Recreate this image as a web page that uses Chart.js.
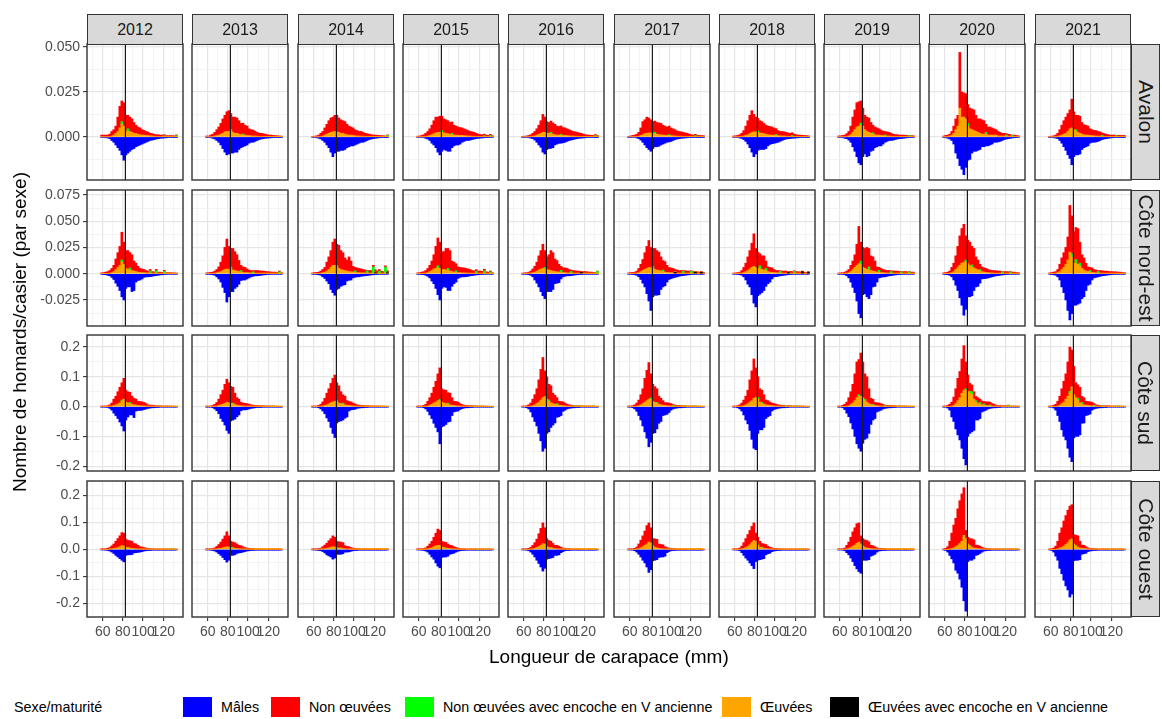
<!DOCTYPE html>
<html lang="fr">
<head>
<meta charset="utf-8">
<title>Homards par casier selon la longueur de carapace</title>
<script src="https://cdn.jsdelivr.net/npm/chart.js@4.4.1/dist/chart.umd.min.js"></script>
<style>
  body { margin: 0; background: #fff; }
  #figure { position: relative; width: 1162px; height: 719px; overflow: hidden;
            font-family: "Liberation Sans", Arial, sans-serif; color: #1a1a1a; }
  #figure canvas { position: absolute; }
  .strip { position: absolute; box-sizing: border-box; background: #d9d9d9; border: 1px solid #333;
           display: flex; align-items: center; justify-content: center; white-space: nowrap; }
  .strip.top { font-size: 16px; }
  .strip.side span { display: inline-block; transform: rotate(90deg); font-size: 21px; }
  .axis-title { position: absolute; font-size: 19px; white-space: nowrap; color: #000; }
  .legend-text { position: absolute; top: 698px; font-size: 14.3px; line-height: 18px; white-space: nowrap; color: #000; }
  .legend-key { position: absolute; top: 697px; width: 29px; height: 20px; }
</style>
</head>
<body>
<div id="figure"></div>
<script>
// ------------ Données ------------

const years = ["2012", "2013", "2014", "2015", "2016", "2017", "2018", "2019", "2020", "2021"];
const regions = ["Avalon", "Côte nord-est", "Côte sud", "Côte ouest"];

// centres des classes de longueur de carapace (mm), classes de 2 mm
const lengthBins = [59, 61, 63, 65, 67, 69, 71, 73, 75, 77, 79, 81, 83, 85, 87, 89, 91, 93, 95, 97,
  99, 101, 103, 105, 107, 109, 111, 113, 115, 117, 119, 121, 123, 125, 127, 129, 131, 133];

// taille minimale légale (mm)
const legalSize = 82.5;

// --- Avalon ---
const malesAvalon = [
  [-.0004,-.0004,-.0005,-.0006,-.001,-.002,-.003,-.0045,-.006,-.0075,-.010,-.013,-.010,-.009,-.008,-.007,-.0065,-.0055,-.005,-.0045,-.004,-.0035,-.003,-.0025,-.002,-.0018,-.0015,-.0012,-.001,-.0008,-.0007,-.0006,-.0005,-.0004,-.0003,-.0003,-.0002,-.0002],
  [-.0002,-.0003,-.0005,-.0008,-.0012,-.002,-.003,-.0045,-.0065,-.0085,-.010,-.0095,-.009,-.009,-.0085,-.0085,-.007,-.006,-.0055,-.005,-.0045,-.0035,-.003,-.003,-.0025,-.002,-.0015,-.0012,-.001,-.0008,-.0007,-.0006,-.0005,-.0004,-.0003,-.0003,-.0002,-.0002],
  [-.0003,-.0004,-.0005,-.0008,-.0012,-.002,-.003,-.0045,-.006,-.0085,-.011,-.009,-.008,-.008,-.0075,-.0075,-.007,-.006,-.0055,-.005,-.005,-.0045,-.004,-.0035,-.003,-.003,-.0025,-.002,-.0015,-.0012,-.001,-.0008,-.0006,-.0005,-.0004,-.0003,-.0002,-.0002],
  [-.0003,-.0003,-.0004,-.0005,-.0008,-.0012,-.002,-.0035,-.0045,-.006,-.0085,-.010,-.008,-.007,-.0075,-.008,-.008,-.006,-.005,-.0045,-.0045,-.004,-.003,-.0025,-.002,-.002,-.0018,-.0015,-.0012,-.001,-.0008,-.0007,-.0006,-.0005,-.0004,-.0004,-.0003,-.0003],
  [-.0002,-.0003,-.0004,-.0005,-.0007,-.001,-.0018,-.003,-.0045,-.0058,-.0085,-.0095,-.007,-.0065,-.0064,-.006,-.0045,-.004,-.0036,-.0035,-.0033,-.003,-.0025,-.002,-.0018,-.0015,-.0012,-.001,-.0008,-.0007,-.0006,-.0005,-.0004,-.0004,-.0003,-.0003,-.0002,-.0002],
  [-.0002,-.0002,-.0003,-.0004,-.0006,-.001,-.0018,-.003,-.0045,-.006,-.007,-.008,-.0065,-.0055,-.0055,-.0052,-.0045,-.004,-.0035,-.003,-.0028,-.0025,-.002,-.0015,-.0012,-.001,-.0008,-.0007,-.0006,-.0005,-.0004,-.0004,-.0003,-.0003,-.0002,-.0002,-.0002,-.0002],
  [-.0003,-.0003,-.0004,-.0006,-.0009,-.0015,-.0025,-.004,-.006,-.0085,-.011,-.0095,-.0075,-.007,-.007,-.007,-.0065,-.005,-.0042,-.0038,-.0036,-.0033,-.003,-.0025,-.002,-.0015,-.0012,-.001,-.0009,-.0008,-.0007,-.0006,-.0005,-.0004,-.0003,-.0003,-.0002,-.0002],
  [-.0003,-.0004,-.0005,-.0008,-.001,-.0018,-.003,-.0055,-.008,-.011,-.0145,-.0155,-.011,-.0095,-.011,-.0105,-.008,-.0075,-.006,-.0055,-.005,-.005,-.004,-.003,-.0025,-.002,-.002,-.0018,-.0015,-.0012,-.001,-.0009,-.0008,-.0006,-.0005,-.0004,-.0004,-.0003],
  [-.0004,-.0005,-.0008,-.0012,-.002,-.004,-.009,-.012,-.016,-.018,-.021,-.017,-.013,-.0125,-.009,-.008,-.008,-.0075,-.007,-.0055,-.0055,-.005,-.005,-.0045,-.004,-.003,-.003,-.0028,-.0025,-.002,-.0015,-.0012,-.001,-.0008,-.0006,-.0005,-.0004,-.0003],
  [-.0002,-.0003,-.0005,-.0007,-.001,-.002,-.0035,-.0055,-.0075,-.010,-.012,-.0155,-.011,-.010,-.010,-.0095,-.007,-.006,-.0055,-.005,-.0035,-.003,-.003,-.0028,-.0025,-.002,-.0015,-.0012,-.001,-.0008,-.0006,-.0005,-.0004,-.0003,-.0003,-.0002,-.0002,-.0002]
];
const nonOeuveesAvalon = [
  [.001,.001,.001,.001,.0015,.0025,.003,.004,.008,.012,.0115,.013,.009,.0075,.008,.0075,.006,.0047,.004,.0038,.003,.0026,.0022,.002,.0014,.0013,.0011,.0009,.0009,.0007,.0007,.0006,.0005,.0005,.0005,.0005,.0004,.0004],
  [.0005,.0005,.001,.0015,.002,.0032,.0045,.006,.008,.0092,.011,.0116,.009,.0085,.009,.0085,.0075,.0063,.006,.0055,.0052,.0038,.0034,.0033,.0027,.0021,.0017,.0017,.0015,.0013,.001,.0008,.0008,.0006,.0005,.0005,.0004,.0003],
  [.0003,.0004,.0006,.001,.0017,.0025,.004,.0055,.007,.008,.0082,.009,.0092,.008,.0075,.007,.007,.0058,.005,.0045,.0042,.0034,.003,.0025,.0026,.0021,.0017,.0015,.0012,.001,.0008,.0008,.0007,.0006,.0005,.0004,.0003,.0003],
  [.0004,.0005,.0008,.0012,.0017,.0025,.0037,.0053,.0072,.0088,.0085,.009,.008,.0078,.0075,.0072,.0065,.0063,.0055,.005,.0046,.0044,.0042,.0038,.0034,.003,.0025,.0024,.0021,.0017,.0012,.001,.001,.0008,.0008,.0007,.0006,.0005],
  [.0003,.0004,.0005,.0008,.001,.0016,.0024,.0035,.005,.007,.010,.0085,.0063,.006,.0062,.0063,.0058,.005,.0048,.0046,.0044,.0042,.0038,.0034,.003,.0025,.0024,.0021,.0019,.0017,.0012,.001,.0008,.0008,.0007,.0006,.0006,.0005],
  [.0003,.0005,.0008,.001,.0013,.0021,.0042,.0073,.0077,.009,.0083,.0073,.0065,.0062,.0065,.0065,.0063,.0055,.0051,.0047,.0047,.0043,.0039,.0035,.0028,.0026,.0024,.0022,.0019,.0017,.0013,.001,.0008,.0007,.0006,.0006,.0005,.0005],
  [.0005,.0006,.0008,.0012,.0017,.003,.0052,.0078,.0102,.0121,.0097,.0082,.007,.0068,.0065,.0057,.005,.0048,.0048,.0045,.0041,.0032,.0028,.0024,.0025,.0023,.0021,.0018,.0017,.0015,.0012,.001,.0008,.0008,.0007,.0006,.0005,.0004],
  [.0005,.0006,.0008,.001,.0015,.0024,.0048,.0085,.011,.0135,.0135,.0123,.010,.008,.008,.008,.006,.0042,.0043,.004,.0035,.003,.0025,.0019,.0023,.002,.0016,.0011,.001,.0009,.0007,.0008,.0008,.0007,.0006,.0001,.0005,.0004],
  [.0005,.0008,.001,.001,.002,.004,.006,.006,.031,.014,.0135,.014,.0105,.0115,.0115,.0115,.009,.0075,.008,.008,.0075,.0045,.0045,.0045,.004,.0035,.003,.0025,.002,.0015,.0015,.0007,.0011,.0008,.0002,.0007,.0006,.0004],
  [.0003,.0004,.0006,.001,.0017,.0034,.0055,.0075,.009,.010,.0105,.016,.010,.008,.0095,.0095,.0065,.0056,.0054,.005,.0037,.0033,.003,.003,.0025,.0024,.0013,.0015,.0012,.0009,.0008,.0008,.0008,.0002,.0007,.0006,.0006,.0006]
];
const oeuveesAvalon = [
  [0,0,0,0,0,.0005,.001,.002,.003,.005,.007,.006,.003,.003,.003,.0025,.002,.0018,.0015,.0012,.001,.001,.0008,.0007,.0006,.0005,.0004,.0003,.0003,.0003,.0003,.0002,.0002,.0002,.0002,.0002,.0002,.0002],
  [0,0,0,0,.0005,.0008,.001,.0015,.002,.0028,.003,.003,.003,.0025,.002,.002,.0015,.0012,.001,.001,.0008,.0007,.0006,.0005,.0005,.0004,.0003,.0003,.0003,.0002,.0002,.0002,.0002,.0002,.0002,.0001,.0001,.0001],
  [0,0,0,0,.0003,.0005,.001,.0015,.002,.0025,.0028,.003,.0028,.0025,.002,.002,.0015,.0012,.001,.001,.0008,.0006,.0005,.0005,.0004,.0004,.0003,.0003,.0003,.0002,.0002,.0002,.0002,.0002,.0002,.0002,.0002,.0002],
  [0,0,0,0,.0003,.0005,.0008,.0012,.0018,.0022,.0025,.0025,.0025,.0022,.002,.0018,.0015,.0012,.001,.001,.0009,.0008,.0008,.0007,.0006,.0005,.0005,.0004,.0004,.0003,.0003,.0003,.0002,.0002,.0002,.0002,.0002,.0002],
  [0,0,0,0,.0002,.0004,.0006,.001,.0015,.002,.0025,.0025,.0022,.002,.0018,.0015,.0012,.001,.001,.0009,.0008,.0008,.0007,.0006,.0005,.0005,.0004,.0004,.0003,.0003,.0003,.0002,.0002,.0002,.0002,.0002,.0002,.0002],
  [0,0,0,0,.0002,.0004,.0008,.0012,.0018,.002,.0022,.0022,.002,.0018,.0015,.0013,.0012,.001,.0009,.0008,.0008,.0007,.0006,.0005,.0005,.0004,.0004,.0003,.0003,.0003,.0002,.0002,.0002,.0002,.0002,.0002,.0002,.0002],
  [0,0,0,0,.0003,.0005,.0008,.0012,.0018,.0025,.0028,.0028,.0025,.0022,.002,.0018,.0015,.0012,.001,.001,.0009,.0008,.0007,.0006,.0005,.0005,.0004,.0004,.0003,.0003,.0003,.0002,.0002,.0002,.0002,.0002,.0002,.0002],
  [0,0,0,0,.0003,.0006,.0012,.0025,.004,.0055,.006,.0065,.006,.004,.003,.0025,.002,.0015,.0012,.001,.001,.0008,.0007,.0006,.0005,.0005,.0004,.0004,.0003,.0003,.0003,.0002,.0002,.0002,.0002,.0002,.0002,.0002],
  [0,0,0,.0005,.001,.002,.004,.006,.016,.011,.011,.010,.006,.0045,.004,.0035,.003,.0025,.002,.0015,.0015,.0015,.001,.001,.001,.001,.001,.0005,.0005,.0005,.0005,.0005,.0004,.0004,.0003,.0003,.0002,.0002],
  [0,0,0,0,.0003,.0006,.001,.0015,.002,.003,.0045,.005,.004,.003,.0025,.002,.0015,.0012,.001,.001,.0008,.0007,.0006,.0005,.0005,.0004,.0004,.0003,.0003,.0003,.0002,.0002,.0002,.0002,.0002,.0002,.0002,.0002]
];
// [longueur, homards/casier]
const nonOeuveesVAvalon = [
  [[79,.0015],[85,.0015],[121,.0004],[133,.0005]],
  [[83,.001],[95,.0006]],
  [[133,.0006]],
  [[83,.001],[93,.0008],[125,.0005],[131,.0006]],
  [[87,.0008],[97,.0006],[131,.0005]],
  [[85,.0008],[99,.0005],[125,.0005]],
  [[83,.0008],[101,.0006],[117,.0005]],
  [[81,.0012],[93,.0008],[105,.0005],[129,.0005]],
  [[83,.0015],[101,.001],[121,.0006],[127,.0005]],
  [[85,.001],[111,.0005],[125,.0005]]
];
const oeuveesVAvalon = [[], [], [], [], [], [], [], [], [], []];

// --- Côte nord-est ---
const malesNordEst = [
  [-.0005,-.0008,-.001,-.0015,-.002,-.0035,-.0055,-.009,-.012,-.016,-.022,-.025,-.014,-.0125,-.0125,-.017,-.016,-.008,-.0065,-.006,-.005,-.0035,-.003,-.003,-.0028,-.0025,-.002,-.0018,-.0015,-.0012,-.001,-.0008,-.0006,-.0005,-.0004,-.0003,-.0003,-.0002],
  [-.0005,-.0006,-.0008,-.001,-.0015,-.003,-.005,-.008,-.013,-.018,-.027,-.022,-.017,-.017,-.014,-.0125,-.010,-.0065,-.006,-.006,-.005,-.004,-.003,-.0025,-.002,-.002,-.0018,-.0015,-.0012,-.001,-.0008,-.0007,-.0006,-.0005,-.0004,-.0003,-.0003,-.0002],
  [-.0005,-.0006,-.0008,-.001,-.0015,-.003,-.0045,-.007,-.0095,-.015,-.018,-.0205,-.015,-.014,-.012,-.011,-.0105,-.007,-.0063,-.006,-.004,-.0035,-.003,-.003,-.0025,-.0022,-.002,-.0018,-.0015,-.0012,-.001,-.0008,-.0007,-.0006,-.0005,-.0004,-.0003,-.0003],
  [-.0005,-.0006,-.0008,-.001,-.0015,-.0025,-.004,-.007,-.0095,-.014,-.020,-.025,-.014,-.0125,-.013,-.016,-.016,-.012,-.0095,-.008,-.0045,-.0035,-.003,-.003,-.0028,-.0025,-.002,-.0018,-.0015,-.0012,-.001,-.0008,-.0007,-.0006,-.0005,-.0004,-.0003,-.0003],
  [-.0004,-.0005,-.0007,-.001,-.0015,-.003,-.006,-.009,-.0126,-.017,-.021,-.0237,-.017,-.017,-.017,-.015,-.0095,-.009,-.0085,-.005,-.003,-.0025,-.002,-.002,-.0018,-.0015,-.0012,-.001,-.0008,-.0007,-.0006,-.0005,-.0004,-.0003,-.0003,-.0002,-.0002,-.0002],
  [-.0005,-.0006,-.0008,-.001,-.0015,-.003,-.0055,-.009,-.0126,-.019,-.026,-.035,-.022,-.0205,-.0205,-.020,-.015,-.0126,-.0115,-.008,-.0055,-.0047,-.004,-.0035,-.003,-.0025,-.002,-.0018,-.0015,-.0012,-.001,-.0008,-.0007,-.0006,-.0005,-.0004,-.0003,-.0003],
  [-.0004,-.0005,-.0007,-.001,-.0015,-.003,-.006,-.010,-.0126,-.020,-.028,-.0316,-.021,-.0195,-.018,-.016,-.012,-.0095,-.008,-.005,-.003,-.0028,-.0025,-.002,-.0018,-.0015,-.0012,-.001,-.0008,-.0007,-.0006,-.0005,-.0004,-.0003,-.0003,-.0002,-.0002,-.0002],
  [-.0004,-.0005,-.0007,-.001,-.002,-.004,-.008,-.013,-.018,-.026,-.038,-.042,-.020,-.019,-.022,-.0237,-.020,-.0126,-.012,-.008,-.004,-.0035,-.003,-.003,-.0025,-.002,-.0018,-.0015,-.0012,-.001,-.0008,-.0007,-.0006,-.0005,-.0004,-.0003,-.0003,-.0002],
  [-.0005,-.0008,-.001,-.0015,-.003,-.006,-.011,-.016,-.023,-.030,-.0395,-.034,-.022,-.022,-.021,-.016,-.0126,-.012,-.009,-.005,-.0047,-.0045,-.004,-.0035,-.003,-.0025,-.002,-.0018,-.0015,-.0012,-.001,-.0008,-.0007,-.0006,-.0005,-.0004,-.0003,-.0003],
  [-.0005,-.0008,-.001,-.0015,-.003,-.006,-.0126,-.018,-.025,-.035,-.044,-.038,-.030,-.030,-.029,-.028,-.0237,-.022,-.016,-.011,-.010,-.006,-.004,-.0035,-.003,-.0025,-.002,-.0018,-.0015,-.0012,-.001,-.0008,-.0007,-.0006,-.0005,-.0004,-.0003,-.0003]
];
const nonOeuveesNordEst = [
  [.0008,.001,.0015,.002,.0025,.004,.006,.010,.014,.018,.0265,.021,.017,.018,.0145,.015,.0095,.008,.0055,.0038,.0035,.003,.0022,.0018,.0014,.0015,.0013,.0012,.0011,.0012,.001,.0009,.0007,.0008,.0008,.0006,.0006,.0004],
  [.0008,.001,.0012,.0015,.002,.003,.005,.009,.014,.021,.0285,.022,.0175,.0205,.018,.0155,.0106,.005,.0053,.005,.0035,.0027,.0023,.0012,.0025,.0025,.0024,.0021,.0021,.0019,.0017,.0015,.0013,.0013,.0013,.001,.0008,.0008],
  [.0008,.001,.0012,.0015,.002,.003,.0045,.0085,.012,.016,.022,.025,.020,.022,.018,.0165,.012,.0105,.014,.0102,.0055,.0033,.0045,.004,.0037,.0032,.0028,.0004,.0024,.0025,.0015,.0023,.0021,.0015,.0018,.0017,.0012,.0015],
  [.0008,.001,.0015,.0017,.0024,.004,.006,.009,.0135,.021,.0265,.025,.017,.017,.0205,.019,.0195,.010,.0095,.0067,.0055,.005,.0049,.0047,.0043,.0039,.0035,.0025,.0024,.0015,.0021,.0022,.0019,.0015,.0016,.0013,.0008,.0008],
  [.0006,.0008,.001,.0012,.002,.0035,.0055,.0085,.0135,.0175,.023,.016,.012,.0145,.019,.0175,.012,.0107,.0075,.0038,.0047,.0045,.0042,.0033,.0014,.0025,.0023,.0021,.0021,.0004,.0017,.0017,.0015,.0013,.0013,.001,.0008,.0003],
  [.0008,.001,.0012,.0012,.002,.004,.007,.0105,.016,.021,.0256,.0195,.017,.020,.0185,.0175,.0135,.009,.010,.0068,.005,.0045,.0042,.0018,.0029,.0025,.0025,.0006,.0024,.0022,.0022,.0005,.0017,.0003,.0016,.0013,.0003,.001],
  [.0006,.0008,.001,.0012,.0025,.005,.008,.013,.0175,.023,.031,.018,.0155,.0115,.013,.0135,.007,.0045,.0045,.0043,.003,.002,.0022,.0006,.0019,.002,.002,.0003,.0018,.0017,.0005,.0017,.0015,.0016,.0003,.0013,.001,.0003],
  [.0006,.0008,.001,.0012,.002,.003,.006,.008,.012,.020,.0355,.018,.019,.019,.021,.0175,.014,.0135,.010,.005,.0028,.004,.003,.0027,.0023,.0024,.0008,.002,.0021,.0021,.0019,.0002,.0017,.0017,.0016,.0003,.0013,.0013],
  [.0008,.001,.0015,.002,.005,.008,.013,.020,.028,.033,.036,.023,.0225,.0225,.0177,.0185,.0115,.0095,.005,.0045,.004,.0038,.003,.0027,.0023,.0024,.0023,.002,.0021,.0003,.0017,.0017,.0015,.0003,.0013,.0013,.001,.0008],
  [.0008,.001,.0015,.0015,.003,.007,.011,.014,.016,.022,.0445,.036,.030,.0305,.034,.020,.013,.0115,.0075,.0045,.003,.0043,.003,.0027,.0008,.0024,.0023,.002,.0021,.0018,.0017,.0017,.0015,.0015,.0013,.0013,.001,.0008]
];
const oeuveesNordEst = [
  [0,0,0,0,.0005,.001,.002,.004,.006,.008,.011,.009,.005,.004,.0035,.003,.0025,.002,.0015,.0012,.001,.001,.0008,.0007,.0006,.0005,.0005,.0004,.0004,.0003,.0003,.0003,.0003,.0002,.0002,.0002,.0002,.0002],
  [0,0,0,0,.0005,.001,.0015,.002,.003,.004,.0045,.004,.004,.0035,.003,.0025,.002,.0015,.0012,.001,.001,.0008,.0007,.0006,.0005,.0005,.0004,.0004,.0004,.0003,.0003,.0003,.0002,.0002,.0002,.0002,.0002,.0002],
  [0,0,0,0,.0005,.001,.0015,.0025,.004,.006,.008,.008,.006,.005,.004,.0035,.003,.0025,.002,.0018,.0015,.0012,.001,.001,.0008,.0008,.0007,.0006,.0006,.0005,.0005,.0005,.0004,.0004,.0004,.0003,.0003,.0003],
  [0,0,0,.0003,.0006,.001,.002,.003,.0045,.005,.0055,.005,.004,.004,.0035,.003,.0025,.002,.0015,.0013,.001,.001,.0008,.0008,.0007,.0006,.0005,.0005,.0004,.0004,.0004,.0003,.0003,.0003,.0002,.0002,.0002,.0002],
  [0,0,0,.0003,.0005,.001,.0015,.0025,.0035,.0045,.005,.0045,.004,.0035,.003,.0025,.002,.0018,.0015,.0012,.001,.001,.0008,.0007,.0006,.0005,.0005,.0004,.0004,.0003,.0003,.0003,.0003,.0002,.0002,.0002,.0002,.0002],
  [0,0,0,.0003,.0005,.001,.002,.003,.004,.005,.006,.0055,.005,.004,.0035,.003,.0025,.002,.0015,.0012,.001,.001,.0008,.0007,.0006,.0005,.0005,.0004,.0004,.0003,.0003,.0003,.0003,.0002,.0002,.0002,.0002,.0002],
  [0,0,0,.0003,.0005,.001,.002,.003,.0045,.006,.007,.006,.005,.0045,.004,.0035,.003,.002,.0015,.0012,.001,.001,.0008,.0007,.0006,.0005,.0005,.0004,.0004,.0003,.0003,.0003,.0003,.0002,.0002,.0002,.0002,.0002],
  [0,0,0,.0003,.0005,.001,.002,.004,.006,.008,.0095,.009,.006,.005,.004,.0035,.003,.0025,.002,.0015,.0012,.001,.001,.0008,.0007,.0006,.0005,.0005,.0004,.0004,.0003,.0003,.0003,.0003,.0002,.0002,.0002,.0002],
  [0,0,0,.0005,.001,.002,.004,.006,.008,.010,.011,.011,.0095,.0075,.0063,.0055,.0045,.0035,.0025,.002,.0015,.0012,.001,.0008,.0007,.0006,.0005,.0005,.0004,.0004,.0003,.0003,.0003,.0003,.0002,.0002,.0002,.0002],
  [0,0,0,.0005,.001,.002,.004,.006,.009,.013,.0205,.016,.010,.0095,.009,.007,.005,.0035,.0025,.002,.0015,.0012,.001,.0008,.0007,.0006,.0005,.0005,.0004,.0004,.0003,.0003,.0003,.0003,.0002,.0002,.0002,.0002]
];
const nonOeuveesVNordEst = [
  [[79,.002],[87,.002],[107,.002],[113,.0025],[121,.002]],
  [[83,.0025],[93,.0015],[105,.0012],[131,.0015]],
  [[83,.002],[101,.0015],[113,.002],[119,.006],[125,.002],[131,.006]],
  [[79,.002],[89,.002],[97,.0015],[117,.002],[125,.0025],[131,.0015]],
  [[81,.0015],[97,.002],[107,.0015],[133,.002]],
  [[83,.002],[93,.0015],[113,.002],[121,.002]],
  [[85,.003],[91,.002],[105,.0015],[119,.002]],
  [[81,.003],[89,.003],[99,.002],[111,.0015],[121,.0015],[129,.0015]],
  [[81,.002],[87,.002],[95,.0015],[117,.0015],[125,.0015]],
  [[81,.003],[85,.004],[89,.003],[99,.0015],[107,.0015]]
];
const oeuveesVNordEst = [
  [], [],
  [[121,.001],[133,.001]],
  [],
  [[117,.0015]],
  [[105,.0015],[125,.0015],[131,.0015]],
  [[113,.0015],[127,.002],[133,.0015]],
  [], [], []
];

// --- Côte sud ---
const malesSud = [
  [-.001,-.0015,-.002,-.003,-.006,-.012,-.022,-.030,-.040,-.052,-.065,-.082,-.045,-.035,-.028,-.028,-.037,-.015,-.013,-.013,-.012,-.010,-.008,-.006,-.005,-.004,-.004,-.003,-.003,-.002,-.002,-.002,-.0015,-.0015,-.001,-.001,-.001,-.001],
  [-.001,-.0015,-.002,-.004,-.008,-.014,-.024,-.040,-.050,-.062,-.080,-.090,-.048,-.045,-.042,-.034,-.028,-.014,-.011,-.011,-.010,-.008,-.006,-.005,-.004,-.003,-.003,-.003,-.002,-.002,-.002,-.0015,-.0015,-.001,-.001,-.001,-.001,-.001],
  [-.001,-.0015,-.002,-.004,-.008,-.015,-.024,-.038,-.050,-.070,-.090,-.104,-.055,-.050,-.048,-.045,-.039,-.035,-.015,-.011,-.010,-.009,-.006,-.005,-.004,-.004,-.003,-.003,-.002,-.002,-.002,-.0015,-.0015,-.001,-.001,-.001,-.001,-.001],
  [-.001,-.0015,-.002,-.004,-.008,-.016,-.028,-.040,-.056,-.070,-.085,-.125,-.068,-.065,-.060,-.052,-.050,-.030,-.018,-.016,-.015,-.010,-.007,-.005,-.004,-.004,-.003,-.003,-.002,-.002,-.002,-.0015,-.0015,-.001,-.001,-.001,-.001,-.001],
  [-.001,-.002,-.004,-.008,-.018,-.035,-.050,-.065,-.090,-.115,-.150,-.140,-.090,-.085,-.070,-.062,-.055,-.036,-.034,-.030,-.016,-.012,-.008,-.006,-.005,-.004,-.004,-.003,-.003,-.002,-.002,-.002,-.0015,-.0015,-.001,-.001,-.001,-.001],
  [-.001,-.002,-.004,-.008,-.016,-.030,-.045,-.065,-.085,-.106,-.135,-.120,-.090,-.088,-.075,-.056,-.050,-.030,-.028,-.026,-.020,-.012,-.008,-.006,-.005,-.004,-.004,-.003,-.003,-.002,-.002,-.002,-.0015,-.0015,-.001,-.001,-.001,-.001],
  [-.001,-.002,-.004,-.008,-.015,-.028,-.045,-.058,-.080,-.110,-.140,-.145,-.090,-.078,-.078,-.070,-.040,-.034,-.030,-.015,-.010,-.008,-.006,-.005,-.004,-.004,-.003,-.003,-.002,-.002,-.002,-.0015,-.0015,-.001,-.001,-.001,-.001,-.001],
  [-.001,-.002,-.004,-.010,-.022,-.034,-.055,-.075,-.100,-.125,-.140,-.150,-.123,-.110,-.106,-.090,-.060,-.045,-.040,-.018,-.015,-.012,-.008,-.006,-.005,-.004,-.004,-.003,-.003,-.002,-.002,-.002,-.0015,-.0015,-.001,-.001,-.001,-.001],
  [-.001,-.002,-.005,-.012,-.035,-.050,-.075,-.095,-.112,-.140,-.175,-.196,-.100,-.090,-.085,-.080,-.045,-.045,-.040,-.018,-.015,-.012,-.008,-.006,-.005,-.004,-.004,-.003,-.003,-.002,-.002,-.002,-.0015,-.0015,-.001,-.001,-.001,-.001],
  [-.001,-.002,-.005,-.012,-.030,-.050,-.078,-.100,-.112,-.140,-.170,-.185,-.105,-.100,-.100,-.095,-.056,-.055,-.030,-.028,-.025,-.012,-.008,-.006,-.005,-.004,-.004,-.003,-.003,-.002,-.002,-.002,-.0015,-.0015,-.001,-.001,-.001,-.001]
];
const nonOeuveesSud = [
  [.001,.0015,.002,.003,.005,.010,.021,.029,.041,.052,.058,.070,.040,.038,.034,.027,.022,.020,.014,.014,.013,.0115,.008,.0045,.004,.004,.003,.002,.0022,.0022,.0014,.0015,.0015,.0016,.0016,.0012,.0012,.0007],
  [.001,.0015,.002,.004,.007,.012,.021,.034,.047,.064,.078,.067,.057,.053,.038,.025,.021,.012,.0095,.009,.008,.0065,.005,.004,.003,.0032,.0022,.0024,.0024,.0015,.0015,.0016,.0016,.0005,.0012,.0012,.0008,.0008],
  [.001,.0015,.002,.004,.007,.014,.024,.039,.051,.065,.079,.088,.060,.058,.040,.028,.029,.015,.013,.013,.0095,.007,.0045,.004,.003,.003,.0022,.0022,.0024,.0014,.0015,.0015,.0016,.0016,.0012,.0012,.0008,.0008],
  [.001,.0015,.002,.004,.007,.016,.025,.037,.053,.069,.090,.106,.045,.044,.045,.035,.039,.025,.014,.014,.0125,.008,.0055,.004,.003,.003,.0022,.0022,.0009,.0014,.0015,.0015,.0016,.0011,.0012,.0007,.0008,.0008],
  [.001,.002,.003,.006,.011,.022,.034,.050,.075,.103,.135,.086,.075,.053,.057,.035,.030,.020,.013,.013,.013,.0095,.006,.0045,.004,.003,.001,.0022,.0022,.0004,.0014,.0015,.0015,.0016,.0011,0,.0007,.0008],
  [.001,.002,.003,.006,.011,.019,.034,.050,.080,.102,.123,.081,.057,.053,.046,.027,.022,.015,.009,.010,.0095,.008,.0035,.004,.003,.003,.0022,.0022,.0004,.0014,.0015,.0015,.0016,0,.0012,.0012,.0008,.0008],
  [.001,.002,.003,.006,.011,.019,.029,.045,.075,.100,.132,.099,.069,.045,.041,.032,.016,.015,.011,.009,.0075,.006,.0045,.004,.003,.003,.0002,.0022,.0024,.0014,.0015,0,.0016,.0016,.0012,.0012,.0008,.0008],
  [.001,.002,.004,.008,.014,.027,.043,.063,.090,.120,.118,.145,.120,.085,.085,.050,.021,.017,.010,.010,.0095,.008,.0055,.002,.003,.003,.0022,.0022,.0024,.0014,0,.0015,.0016,.0016,.0012,.0012,.0008,.0008],
  [.001,.002,.004,.008,.014,.028,.050,.075,.088,.115,.150,.090,.056,.027,.023,.025,.014,.020,.011,.013,.008,.012,.013,.0095,.008,.0065,.004,.003,.003,.0022,.0024,.0024,.0015,.0015,.0016,.0017,.0012,.0013],
  [.001,.002,.004,.008,.016,.030,.050,.070,.085,.115,.149,.123,.095,.050,.045,.053,.020,.024,.013,.013,.013,.0115,.005,.0045,.004,.003,.001,.0022,.0022,.0024,.0014,.0015,.0015,.0016,0,.0012,.0012,.0008]
];
const oeuveesSud = [
  [0,0,0,0,.001,.002,.004,.006,.009,.013,.018,.025,.015,.012,.010,.008,.006,.005,.004,.003,.003,.0025,.002,.0015,.001,.001,.001,.001,.0008,.0008,.0006,.0005,.0005,.0004,.0004,.0003,.0003,.0003],
  [0,0,0,0,.001,.002,.004,.006,.008,.011,.014,.013,.011,.009,.007,.005,.004,.003,.0025,.002,.002,.0015,.001,.001,.001,.0008,.0008,.0006,.0006,.0005,.0005,.0004,.0004,.0003,.0003,.0003,.0002,.0002],
  [0,0,0,0,.001,.002,.004,.006,.009,.013,.016,.018,.014,.012,.010,.008,.006,.005,.004,.003,.0025,.002,.0015,.001,.001,.001,.0008,.0008,.0006,.0006,.0005,.0005,.0004,.0004,.0003,.0003,.0002,.0002],
  [0,0,0,0,.001,.002,.005,.008,.012,.016,.020,.020,.015,.012,.010,.008,.006,.005,.004,.003,.0025,.002,.0015,.001,.001,.001,.0008,.0008,.0006,.0006,.0005,.0005,.0004,.0004,.0003,.0003,.0002,.0002],
  [0,0,0,0,.001,.003,.006,.010,.015,.022,.030,.034,.025,.018,.013,.010,.008,.006,.005,.004,.003,.0025,.002,.0015,.001,.001,.001,.0008,.0008,.0006,.0006,.0005,.0005,.0004,.0004,.0003,.0003,.0002],
  [0,0,0,0,.001,.003,.006,.010,.015,.020,.025,.025,.018,.014,.011,.008,.006,.005,.004,.003,.0025,.002,.0015,.001,.001,.001,.0008,.0008,.0006,.0006,.0005,.0005,.0004,.0004,.0003,.0003,.0002,.0002],
  [0,0,0,0,.001,.003,.006,.010,.015,.020,.028,.031,.025,.015,.010,.008,.006,.005,.004,.003,.0025,.002,.0015,.001,.001,.001,.0008,.0008,.0006,.0006,.0005,.0005,.0004,.0004,.0003,.0003,.0002,.0002],
  [0,0,0,0,.001,.003,.007,.012,.020,.030,.035,.035,.030,.020,.015,.010,.007,.005,.004,.003,.0025,.002,.0015,.001,.001,.001,.0008,.0008,.0006,.0006,.0005,.0005,.0004,.0004,.0003,.0003,.0002,.0002],
  [0,0,0,0,.001,.004,.010,.020,.030,.045,.055,.056,.050,.045,.040,.025,.015,.010,.008,.006,.005,.004,.003,.0025,.002,.0015,.001,.001,.001,.0008,.0006,.0006,.0005,.0005,.0004,.0003,.0003,.0002],
  [0,0,0,0,.002,.005,.010,.015,.025,.035,.045,.067,.040,.030,.020,.012,.008,.006,.005,.004,.003,.0025,.002,.0015,.001,.001,.001,.0008,.0008,.0006,.0006,.0005,.0005,.0004,.0004,.0003,.0003,.0002]
];
const nonOeuveesVSud = [
  [[79,.004],[87,.004]],
  [[85,.003],[125,.0015]],
  [[83,.006],[89,.004]],
  [[81,.004],[89,.004],[115,.0015]],
  [[85,.004],[93,.004],[111,.002],[117,.002],[129,.002]],
  [[81,.004],[87,.003],[103,.002],[115,.002],[125,.002]],
  [[83,.006],[87,.004],[111,.002],[121,.002]],
  [[79,.005],[85,.005],[93,.003],[105,.002],[119,.002]],
  [[81,.004],[85,.006],[87,.010],[91,.005],[95,.006],[99,.004],[105,.003],[123,.003]],
  [[79,.006],[87,.008],[91,.006],[103,.003],[111,.002],[127,.002]]
];
const oeuveesVSud = [[], [], [], [], [], [], [], [], [], []];

// --- Côte ouest ---
const malesOuest = [
  [-.002,-.002,-.003,-.004,-.006,-.010,-.015,-.022,-.028,-.034,-.040,-.046,-.022,-.020,-.020,-.019,-.013,-.012,-.011,-.010,-.008,-.006,-.005,-.004,-.004,-.003,-.003,-.003,-.003,-.003,-.003,-.003,-.003,-.003,-.003,-.003,-.003,-.002],
  [-.002,-.002,-.003,-.004,-.006,-.010,-.016,-.022,-.030,-.038,-.047,-.040,-.022,-.022,-.020,-.015,-.013,-.012,-.010,-.008,-.006,-.005,-.004,-.004,-.003,-.003,-.003,-.003,-.003,-.003,-.003,-.003,-.003,-.003,-.003,-.003,-.003,-.002],
  [-.002,-.002,-.003,-.004,-.005,-.008,-.013,-.020,-.024,-.028,-.036,-.032,-.018,-.018,-.018,-.016,-.010,-.010,-.009,-.007,-.005,-.004,-.004,-.003,-.003,-.003,-.003,-.003,-.003,-.003,-.003,-.003,-.003,-.003,-.003,-.003,-.003,-.002],
  [-.002,-.002,-.003,-.004,-.006,-.010,-.018,-.028,-.036,-.050,-.062,-.068,-.030,-.028,-.028,-.025,-.018,-.016,-.014,-.010,-.007,-.005,-.004,-.004,-.003,-.003,-.003,-.003,-.003,-.003,-.003,-.003,-.003,-.003,-.003,-.003,-.003,-.002],
  [-.002,-.002,-.003,-.005,-.010,-.018,-.028,-.040,-.052,-.065,-.080,-.070,-.036,-.034,-.032,-.030,-.022,-.022,-.020,-.012,-.008,-.005,-.004,-.004,-.003,-.003,-.003,-.003,-.003,-.003,-.003,-.003,-.003,-.003,-.003,-.003,-.003,-.002],
  [-.002,-.002,-.003,-.005,-.010,-.018,-.028,-.040,-.050,-.065,-.085,-.075,-.042,-.040,-.038,-.030,-.028,-.028,-.025,-.012,-.008,-.005,-.004,-.004,-.003,-.003,-.003,-.003,-.003,-.003,-.003,-.003,-.003,-.003,-.003,-.003,-.003,-.002],
  [-.002,-.002,-.003,-.005,-.012,-.022,-.032,-.040,-.050,-.060,-.071,-.045,-.040,-.038,-.036,-.034,-.020,-.016,-.014,-.008,-.006,-.005,-.004,-.004,-.003,-.003,-.003,-.003,-.003,-.003,-.003,-.003,-.003,-.003,-.003,-.003,-.003,-.002],
  [-.002,-.002,-.003,-.005,-.012,-.020,-.032,-.045,-.060,-.072,-.082,-.088,-.040,-.040,-.040,-.038,-.025,-.022,-.018,-.010,-.006,-.005,-.004,-.004,-.003,-.003,-.003,-.003,-.003,-.003,-.003,-.003,-.003,-.003,-.003,-.003,-.003,-.002],
  [-.002,-.004,-.010,-.022,-.035,-.050,-.077,-.088,-.110,-.140,-.190,-.228,-.045,-.040,-.040,-.035,-.022,-.020,-.015,-.010,-.006,-.005,-.004,-.004,-.003,-.003,-.003,-.003,-.003,-.003,-.003,-.003,-.003,-.003,-.003,-.003,-.003,-.002],
  [-.002,-.004,-.010,-.025,-.040,-.070,-.090,-.114,-.135,-.150,-.176,-.165,-.042,-.040,-.040,-.038,-.018,-.016,-.014,-.008,-.006,-.005,-.004,-.004,-.003,-.003,-.003,-.003,-.003,-.003,-.003,-.003,-.003,-.003,-.003,-.003,-.003,-.002]
];
const nonOeuveesOuest = [
  [.001,.001,.002,.004,.006,.011,.017,.025,.033,.040,.048,.047,.030,.025,.027,.026,.019,.0175,.013,.0085,.008,.006,.004,.003,.0022,.0022,.0014,.0014,.0015,.0015,.0015,.0015,.0015,.0005,.0015,.0015,.0005,.0005],
  [.001,.001,.002,.003,.005,.009,.015,.023,.032,.042,.055,.041,.024,.020,.021,.017,.0125,.012,.0085,.006,.004,.0032,.0024,.0025,.0015,.0015,.0015,.0015,.0015,.0005,.0015,.0015,.0015,.0015,.0015,.0015,.0015,.0005],
  [.001,.001,.002,.003,.004,.008,.013,.019,.026,.032,.040,.036,.024,.023,.021,.022,.0115,.009,.0085,.006,.004,.0032,.0024,.0025,.0015,.0015,.0015,.0015,.0015,.0015,.0015,.0015,.0015,.0015,.0015,.0005,.0015,.0005],
  [.001,.001,.002,.003,.005,.010,.016,.024,.035,.047,.060,.055,.022,.019,.021,.016,.012,.0115,.008,.0055,.004,.0032,.0024,.0025,.0015,.0015,.0015,.0015,.0015,.0015,.0005,.0015,.0015,.0015,.0005,.0015,.0015,.0005],
  [.001,.001,.002,.004,.007,.013,.021,.031,.047,.063,.077,.060,.030,.026,.023,.018,.012,.0125,.010,.0065,.004,.0032,.0024,.0025,.0015,.0015,.0015,.0015,.0015,.0015,.0015,.0005,.0015,.0015,.0015,.0005,.0015,.0005],
  [.001,.001,.002,.004,.008,.017,.028,.040,.053,.068,.071,.056,.026,.031,.031,.016,.015,.0145,.008,.0055,.004,.0032,.0024,.0025,.0015,.0015,.0015,.0015,.0015,.0015,.0005,.0015,.0015,.0015,.0005,.0015,.0015,.0005],
  [.001,.001,.002,.005,.010,.021,.033,.044,.053,.060,.065,.030,.028,.022,.014,.016,.015,.0095,.006,.0045,.003,.0032,.0024,.0025,.0015,.0015,.0015,.0015,.0015,.0015,.0015,.0015,.0015,.0005,.0015,.0015,.0015,.0005],
  [.001,.001,.002,.005,.013,.023,.038,.054,.064,.073,.071,.030,.027,.028,.028,.024,.012,.0115,.008,.0045,.003,.0032,.0024,.0025,.0015,.0015,.0015,.0015,.0015,.0015,.0015,.0005,.0015,.0015,.0015,.0005,.0015,.0005],
  [.002,.004,.010,.029,.057,.084,.105,.135,.158,.175,.176,.030,.025,.026,.031,.030,.012,.012,.0095,.006,.0035,.003,.0022,.0024,.0015,.0015,.0015,.0015,.0015,.0015,.0015,.0005,.0015,.0015,.0015,.0005,.0015,.0005],
  [.001,.002,.005,.012,.028,.055,.072,.093,.107,.120,.125,.126,.035,.038,.042,.025,.012,.011,.0075,.004,.0025,.003,.0022,.0024,.0015,.0015,.0015,.0015,.0015,.0015,.0005,.0015,.0015,.0015,.0005,.0015,.0015,.0005]
];
const oeuveesOuest = [
  [0,0,0,0,.001,.002,.003,.005,.007,.010,.014,.013,.008,.006,.005,.004,.003,.0025,.002,.0015,.001,.001,.001,.001,.0008,.0008,.0006,.0006,.0005,.0005,.0005,.0005,.0005,.0005,.0005,.0005,.0005,.0005],
  [0,0,0,0,.001,.002,.003,.004,.006,.008,.010,.009,.006,.005,.004,.003,.0025,.002,.0015,.001,.001,.0008,.0006,.0005,.0005,.0005,.0005,.0005,.0005,.0005,.0005,.0005,.0005,.0005,.0005,.0005,.0005,.0005],
  [0,0,0,0,.001,.002,.003,.004,.006,.008,.010,.009,.006,.005,.004,.003,.0025,.002,.0015,.001,.001,.0008,.0006,.0005,.0005,.0005,.0005,.0005,.0005,.0005,.0005,.0005,.0005,.0005,.0005,.0005,.0005,.0015],
  [0,0,0,0,.001,.002,.004,.006,.010,.013,.015,.015,.008,.006,.005,.004,.003,.0025,.002,.0015,.001,.0008,.0006,.0005,.0005,.0005,.0005,.0005,.0005,.0005,.0005,.0005,.0005,.0005,.0005,.0005,.0005,.0005],
  [0,0,0,0,.001,.002,.004,.007,.011,.015,.021,.020,.010,.007,.005,.004,.003,.0025,.002,.0015,.001,.0008,.0006,.0005,.0005,.0005,.0005,.0005,.0005,.0005,.0005,.0005,.0005,.0005,.0005,.0005,.0005,.0005],
  [0,0,0,0,.001,.003,.006,.010,.015,.020,.027,.024,.012,.008,.006,.004,.003,.0025,.002,.0015,.001,.0008,.0006,.0005,.0005,.0005,.0005,.0005,.0005,.0005,.0005,.0005,.0005,.0005,.0005,.0005,.0005,.0005],
  [0,0,0,0,.002,.004,.007,.011,.017,.025,.033,.030,.015,.008,.006,.004,.003,.0025,.002,.0015,.001,.0008,.0006,.0005,.0005,.0005,.0005,.0005,.0005,.0005,.0005,.0005,.0005,.0005,.0005,.0005,.0005,.0005],
  [0,0,0,0,.002,.004,.007,.011,.016,.022,.027,.020,.010,.007,.005,.004,.003,.0025,.002,.0015,.001,.0008,.0006,.0005,.0005,.0005,.0005,.0005,.0005,.0005,.0005,.0005,.0005,.0005,.0005,.0005,.0005,.0005],
  [0,0,0,.001,.003,.006,.010,.015,.022,.030,.052,.040,.020,.012,.008,.005,.004,.003,.0025,.002,.0015,.001,.0008,.0006,.0005,.0005,.0005,.0005,.0005,.0005,.0005,.0005,.0005,.0005,.0005,.0005,.0005,.0005],
  [0,0,0,0,.002,.005,.008,.012,.018,.025,.035,.039,.020,.012,.008,.005,.004,.003,.0025,.002,.0015,.001,.0008,.0006,.0005,.0005,.0005,.0005,.0005,.0005,.0005,.0005,.0005,.0005,.0005,.0005,.0005,.0005]
];
const nonOeuveesVOuest = [
  [[85,.002],[125,.001],[131,.001]],
  [[85,.002],[117,.001]],
  [[87,.002],[129,.001]],
  [[85,.002],[119,.001],[127,.001]],
  [[87,.002],[121,.001],[129,.001]],
  [[83,.002],[119,.001],[127,.001]],
  [[83,.002],[87,.002],[125,.001]],
  [[83,.003],[121,.001],[129,.001]],
  [[85,.002],[121,.001],[129,.001]],
  [[85,.002],[93,.001],[119,.001],[127,.001]]
];
const oeuveesVOuest = [[], [], [], [], [], [], [], [], [], []];

// ------------ Axes ------------

const xLimits = [44.5, 139.5];
const xMajor = [60, 80, 100, 120];
const xMinor = [50, 70, 90, 110, 130];
const yLimits = [[-0.024, 0.0517], [-0.0498, 0.0797], [-0.2164, 0.2406], [-0.2498, 0.2528]];
const yMajor = [[0, 0.025, 0.05], [-0.025, 0, 0.025, 0.05, 0.075], [-0.2, -0.1, 0, 0.1, 0.2], [-0.2, -0.1, 0, 0.1, 0.2]];
const yMinor = [[-0.0125, 0.0125, 0.0375], [-0.0375, -0.0125, 0.0125, 0.0375, 0.0625],
  [-0.15, -0.05, 0.05, 0.15], [-0.25, -0.15, -0.05, 0.05, 0.15, 0.25]];
const yDigits = [3, 3, 1, 1];

// ------------ Regroupement ------------

const males = [malesAvalon, malesNordEst, malesSud, malesOuest];
const nonOeuvees = [nonOeuveesAvalon, nonOeuveesNordEst, nonOeuveesSud, nonOeuveesOuest];
const nonOeuveesV = [nonOeuveesVAvalon, nonOeuveesVNordEst, nonOeuveesVSud, nonOeuveesVOuest];
const oeuvees = [oeuveesAvalon, oeuveesNordEst, oeuveesSud, oeuveesOuest];
const oeuveesV = [oeuveesVAvalon, oeuveesVNordEst, oeuveesVSud, oeuveesVOuest];

const groups = [
  { label: "Mâles", color: "#0000ff" },
  { label: "Non œuvées", color: "#ff0000" },
  { label: "Non œuvées avec encoche en V ancienne", color: "#00ff00" },
  { label: "Œuvées", color: "#ffa500" },
  { label: "Œuvées avec encoche en V ancienne", color: "#000000" }
];

// ------------ Mise en page ------------

const fig = document.getElementById("figure");
const PANEL_W = 96, PANEL_H = 136, PAD = 12, Y_AXIS_W = 56, X_AXIS_H = 26;
const panelLeft = c => Math.round(87 + c * 105.3);
const panelTop = r => Math.round(44 + r * 145.5);

Chart.defaults.font.family = '"Liberation Sans", Arial, sans-serif';
Chart.defaults.font.size = 14;
Chart.defaults.color = "#4d4d4d";

// cadre du panneau + ligne de la taille légale
const frameAndLegalSize = {
  id: "frameAndLegalSize",
  afterDatasetsDraw(chart) {
    const { ctx, chartArea: a } = chart;
    const lx = chart.scales.x.getPixelForValue(legalSize);
    ctx.save();
    ctx.strokeStyle = "#1a1a1a";
    ctx.lineWidth = 1.2;
    ctx.beginPath();
    ctx.moveTo(lx, a.top);
    ctx.lineTo(lx, a.bottom);
    ctx.stroke();
    ctx.strokeStyle = "#333333";
    ctx.lineWidth = 1.4;
    ctx.strokeRect(a.left, a.top, a.right - a.left, a.bottom - a.top);
    ctx.restore();
  }
};

const bars = values => lengthBins.map((x, i) => ({ x, y: values[i] }));
const points = pairs => pairs.map(([x, y]) => ({ x, y }));
const ticksOf = (major, minor) => [...minor, ...major].sort((a, b) => a - b).map(value => ({ value }));

function gridFor(major, showTicks) {
  return {
    offset: false,
    drawTicks: showTicks,
    tickLength: 4,
    color: ctx => major.includes(ctx.tick.value) ? "#e6e6e6" : "#f1f1f1",
    lineWidth: ctx => major.includes(ctx.tick.value) ? 1.2 : 0.8,
    tickColor: ctx => major.includes(ctx.tick.value) ? "#333333" : "rgba(0,0,0,0)",
    tickWidth: 1.1
  };
}

regions.forEach((region, r) => {
  years.forEach((year, c) => {
    const hasY = c === 0;
    const hasX = r === regions.length - 1;
    const w = PANEL_W + 2 * PAD + (hasY ? Y_AXIS_W : 0);
    const h = PANEL_H + 2 * PAD + (hasX ? X_AXIS_H : 0);
    const canvas = document.createElement("canvas");
    canvas.width = w;
    canvas.height = h;
    canvas.style.width = w + "px";
    canvas.style.height = h + "px";
    canvas.style.left = (panelLeft(c) - PAD - (hasY ? Y_AXIS_W : 0)) + "px";
    canvas.style.top = (panelTop(r) - PAD) + "px";
    fig.appendChild(canvas);

    new Chart(canvas, {
      type: "bar",
      data: {
        datasets: [
          { label: groups[4].label, data: points(oeuveesV[r][c]), backgroundColor: groups[4].color },
          { label: groups[3].label, data: bars(oeuvees[r][c]), backgroundColor: groups[3].color },
          { label: groups[2].label, data: points(nonOeuveesV[r][c]), backgroundColor: groups[2].color },
          { label: groups[1].label, data: bars(nonOeuvees[r][c]), backgroundColor: groups[1].color },
          { label: groups[0].label, data: bars(males[r][c]), backgroundColor: groups[0].color }
        ]
      },
      options: {
        responsive: false,
        animation: false,
        devicePixelRatio: 1,
        events: [],
        layout: { padding: PAD },
        datasets: { bar: { barPercentage: 1, categoryPercentage: 1, borderWidth: 0, grouped: false } },
        plugins: { legend: { display: false }, tooltip: { enabled: false } },
        scales: {
          x: {
            type: "linear",
            stacked: true,
            offset: false,
            min: xLimits[0],
            max: xLimits[1],
            border: { display: false },
            grid: gridFor(xMajor, hasX),
            ticks: {
              display: hasX,
              autoSkip: false,
              maxRotation: 0,
              minRotation: 0,
              padding: 3,
              color: "#4d4d4d",
              callback: v => xMajor.includes(v) ? String(v) : ""
            },
            afterBuildTicks: s => { s.ticks = ticksOf(xMajor, xMinor); },
            afterFit: s => { s.height = hasX ? X_AXIS_H : 0; }
          },
          y: {
            stacked: true,
            min: yLimits[r][0],
            max: yLimits[r][1],
            border: { display: false },
            grid: gridFor(yMajor[r], hasY),
            ticks: {
              display: hasY,
              autoSkip: false,
              padding: 3,
              color: "#4d4d4d",
              callback: v => yMajor[r].includes(v) ? v.toFixed(yDigits[r]) : ""
            },
            afterBuildTicks: s => { s.ticks = ticksOf(yMajor[r], yMinor[r]); },
            afterFit: s => { s.width = hasY ? Y_AXIS_W : 0; }
          }
        }
      },
      plugins: [frameAndLegalSize]
    });
  });
});

// ------------ Bandeaux, titres, légende ------------

function addDiv(cls, text, style) {
  const d = document.createElement("div");
  d.className = cls;
  Object.assign(d.style, style);
  if (text !== null) d.textContent = text;
  fig.appendChild(d);
  return d;
}

years.forEach((year, c) => {
  addDiv("strip top", year, { left: panelLeft(c) + "px", top: "14px", width: PANEL_W + "px", height: "31px" });
});

regions.forEach((region, r) => {
  const s = addDiv("strip side", null, {
    left: (panelLeft(years.length - 1) + PANEL_W) + "px", top: panelTop(r) + "px", width: "29px", height: PANEL_H + "px"
  });
  const span = document.createElement("span");
  span.textContent = region;
  s.appendChild(span);
});

const xTitle = addDiv("axis-title", "Longueur de carapace (mm)", { left: "0px", top: "646px" });
xTitle.style.left = (609 - xTitle.offsetWidth / 2) + "px";

const yTitle = addDiv("axis-title", "Nombre de homards/casier (par sexe)", { left: "0px", top: "0px" });
yTitle.style.left = (20 - yTitle.offsetWidth / 2) + "px";
yTitle.style.top = (332 - yTitle.offsetHeight / 2) + "px";
yTitle.style.transform = "rotate(-90deg)";

// légende : titre puis clés de couleur
addDiv("legend-text", "Sexe/maturité", { left: "14px" });
const keyLefts = [183, 271, 405, 722, 830];
groups.forEach((g, i) => {
  addDiv("legend-key", null, { left: keyLefts[i] + "px", background: g.color });
  addDiv("legend-text", g.label, { left: (keyLefts[i] + 38) + "px" });
});
</script>
</body>
</html>
